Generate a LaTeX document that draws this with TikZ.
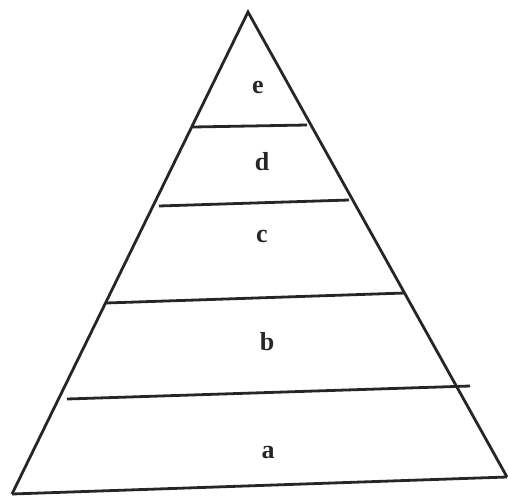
\documentclass[tikz,border=0pt]{standalone}
\usepackage{fontspec}
\setmainfont{Liberation Serif}
\begin{document}
\begin{tikzpicture}[x=1pt,y=-1pt,line width=2.8pt,color=black!85,
  every node/.style={font=\fontsize{26}{30}\selectfont\bfseries,inner sep=0pt}]
\useasboundingbox (0,0) rectangle (508,495);
\coordinate (top) at (248,12);
\coordinate (bl) at (12,494);\coordinate (br) at (507,477);
\draw[line join=miter] (bl)--(top)--(br);
\draw (bl)--(br);
% dividing lines
\coordinate (ed1) at (193,127);\coordinate (ed2) at (307,125);
\coordinate (dc1) at (159,206);\coordinate (dc2) at (349,200);
\coordinate (cb1) at (106,303);\coordinate (cb2) at (405,293);
\coordinate (ba1) at (67,399);\coordinate (ba2) at (470,386);
\draw (ed1)--(ed2) (dc1)--(dc2) (cb1)--(cb2) (ba1)--(ba2);
\node (e) at (258,88) {e};
\node (d) at (262,162) {d};
\node (c) at (262,236) {c};
\node (b) at (267,342) {b};
\node (a) at (268,453) {a};
\end{tikzpicture}
\end{document}
